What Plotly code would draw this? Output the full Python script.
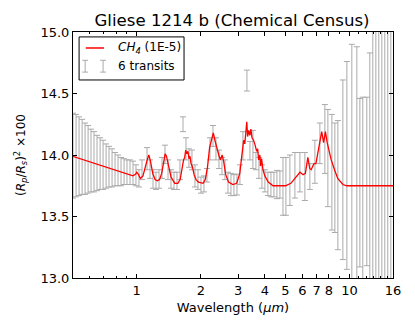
import plotly.graph_objects as go

# ---- observed transit depths (6 transits) ----
wavelength = [0.502, 0.519, 0.536, 0.554, 0.572, 0.591, 0.610, 0.630, 0.651, 0.673,
              0.695, 0.718, 0.741, 0.766, 0.791, 0.817, 0.844, 0.872, 0.900, 0.930,
              0.961, 0.992, 1.025, 1.059, 1.118, 1.155, 1.193, 1.232, 1.273, 1.315,
              1.358, 1.403, 1.449, 1.497, 1.546, 1.597, 1.650, 1.704, 1.760, 1.818,
              1.878, 1.940, 2.004, 2.070, 2.138, 2.209, 2.282, 2.357, 2.435, 2.515,
              2.598, 2.684, 2.772, 2.863, 2.958, 3.055, 3.156, 3.295, 3.404, 3.516,
              3.632, 3.752, 3.876, 4.003, 4.135, 4.272, 4.413, 4.558, 4.708, 4.866,
              5.023, 5.245, 5.537, 5.844, 6.168, 6.511, 6.873, 7.255, 7.656, 7.910,
              8.260, 8.531, 8.812, 9.301, 9.712, 10.25, 10.82, 11.18, 11.54, 12.05,
              12.45, 12.86, 13.29, 13.72, 14.18, 14.64, 15.12, 15.63]
depth = [13.995, 13.995, 13.99, 13.985, 13.97, 13.965, 13.955, 13.945, 13.935, 13.93,
         13.92, 13.91, 13.905, 13.895, 13.885, 13.875, 13.865, 13.865, 13.86, 13.86,
         13.855, 13.835, 13.81, 13.88, 13.97, 13.885, 13.805, 13.79, 13.805, 13.895,
         14.005, 13.88, 13.805, 13.79, 13.79, 13.88, 14.25, 14.05, 13.975, 13.96,
         13.83, 13.80, 13.755, 13.765, 13.835, 14.05, 14.155, 14.05, 13.965, 13.91,
         13.88, 13.775, 13.76, 13.755, 13.76, 13.84, 14.075, 14.605, 14.035, 14.045,
         13.95, 13.895, 13.825, 13.79, 13.765, 13.76, 13.76, 13.76, 13.76, 13.745,
         13.745, 13.795, 13.835, 13.86, 13.825, 13.825, 13.945, 14.095, 14.13, 13.975,
         13.86, 13.815, 13.755, 13.88, 13.915, 13.93, 13.91, 13.775, 13.705, 13.785,
         13.865, 13.95, 13.90, 14.0, 13.85, 13.95, 14.05, 13.90]
error = [0.345, 0.335, 0.32, 0.305, 0.29, 0.275, 0.255, 0.245, 0.225, 0.21,
         0.20, 0.18, 0.165, 0.155, 0.135, 0.125, 0.115, 0.105, 0.10, 0.10,
         0.095, 0.085, 0.07, 0.08, 0.09, 0.075, 0.075, 0.07, 0.075, 0.085,
         0.075, 0.08, 0.075, 0.07, 0.07, 0.08, 0.06, 0.09, 0.075, 0.08,
         0.09, 0.08, 0.065, 0.065, 0.055, 0.09, 0.085, 0.09, 0.075, 0.07,
         0.08, 0.085, 0.09, 0.085, 0.085, 0.08, 0.115, 0.085, 0.075, 0.155,
         0.07, 0.085, 0.095, 0.09, 0.095, 0.10, 0.10, 0.115, 0.11, 0.235,
         0.235, 0.205, 0.185, 0.16, 0.195, 0.105, 0.175, 0.165, 0.28, 0.395,
         0.47, 0.445, 0.525, 0.73, 0.845, 0.97, 0.97, 0.685, 0.765, 0.685,
         0.965, 1.2, 1.25, 1.3, 1.25, 1.35, 1.3, 1.3]

# ---- CH4 (1E-5) model spectrum ----
model_wl = [0.5, 0.96, 0.99, 1.0, 1.02, 1.04, 1.07, 1.10, 1.12, 1.14, 1.16, 1.19, 1.22,
            1.25, 1.28, 1.31, 1.34, 1.36, 1.38, 1.41, 1.45, 1.51, 1.56, 1.60, 1.63,
            1.66, 1.68, 1.70, 1.72, 1.74, 1.76, 1.78, 1.80, 1.83, 1.86, 1.90, 1.95,
            2.05, 2.10, 2.15, 2.20, 2.25, 2.29, 2.33, 2.38, 2.43, 2.47, 2.52, 2.56,
            2.62, 2.70, 2.83, 2.95, 3.05, 3.12, 3.18, 3.22, 3.26, 3.29, 3.32, 3.36,
            3.40, 3.44, 3.48, 3.54, 3.60, 3.66, 3.70, 3.74, 3.79, 3.82, 3.86, 3.92,
            4.0, 4.15, 4.37, 5.0, 5.3, 5.6, 5.85, 6.05, 6.2, 6.37, 6.5, 6.6, 6.8,
            6.95, 7.15, 7.4, 7.55, 7.7, 7.85, 8.2, 8.5, 8.8, 9.3, 9.7, 16.0]
model_depth = [13.99, 13.83, 13.845, 13.86, 13.84, 13.81, 13.83, 13.92, 13.96, 14.0,
               13.95, 13.85, 13.80, 13.79, 13.80, 13.85, 13.96, 14.01, 13.99, 13.92,
               13.82, 13.77, 13.77, 13.80, 13.90, 13.96, 13.98, 14.04, 14.01, 14.03,
               13.97, 13.99, 13.93, 13.90, 13.84, 13.80, 13.78, 13.77, 13.80, 13.90,
               14.06, 14.13, 14.18, 14.12, 14.05, 14.0, 13.96, 14.0, 13.95, 13.84,
               13.78, 13.76, 13.77, 13.85, 14.0, 14.12, 14.09, 14.18, 14.27, 14.15,
               14.2, 14.16, 14.21, 14.14, 14.12, 14.08, 14.03, 14.05, 13.96, 14.0,
               13.91, 13.97, 13.88, 13.83, 13.78, 13.75, 13.75, 13.77, 13.82, 13.86,
               13.84, 13.85, 13.98, 13.89, 13.88, 13.93, 13.93, 14.06, 14.19, 14.1,
               14.19, 14.1, 13.96, 13.88, 13.81, 13.76, 13.75, 13.75]

x_tickvals = [1, 2, 3, 4, 5, 6, 7, 8, 10, 16]
x_ticktext = ["1", "2", "3", "4", "5", "6", "7", "8", "10", "16"]
x_minor_vals = [0.6, 0.7, 0.8, 0.9, 9, 11, 12, 13, 14, 15]
y_tickvals = [13.0, 13.5, 14.0, 14.5, 15.0]
y_ticktext = ["13.0", "13.5", "14.0", "14.5", "15.0"]

FONT = "DejaVu Sans"
GREY = "#aaaaaa"

fig = go.Figure()
fig.add_trace(go.Scatter(
    x=wavelength, y=depth, mode="markers",
    marker=dict(size=1, color="rgba(0,0,0,0)"),
    error_y=dict(type="data", array=error, visible=True, color=GREY,
                 thickness=1, width=3),
    showlegend=False, hoverinfo="skip"))
fig.add_trace(go.Scatter(
    x=model_wl, y=model_depth, mode="lines",
    line=dict(color="#ff0000", width=1.3),
    showlegend=False))

axis_common = dict(showline=True, linecolor="black", linewidth=1, mirror="ticks",
                   ticks="inside", ticklen=4, tickcolor="black", showgrid=False,
                   zeroline=False, automargin=False,
                   tickfont=dict(family=FONT, size=13, color="black"))

fig.update_xaxes(type="log", range=[-0.2993, 1.2041],
                 tickmode="array", tickvals=x_tickvals, ticktext=x_ticktext,
                 minor=dict(tickmode="array", tickvals=x_minor_vals, ticks="inside",
                            ticklen=2, tickcolor="black", showgrid=False),
                 title=dict(text="Wavelength (<i>μm</i>)",
                            font=dict(family=FONT, size=13, color="black"),
                            standoff=6),
                 **axis_common)
fig.update_yaxes(range=[13.0, 15.0], tickmode="array", tickvals=y_tickvals,
                 ticktext=y_ticktext,
                 title=dict(text="(<i>R<sub>p</sub></i>/<i>R<sub>s</sub></i>)<sup>2</sup> ×100",
                            font=dict(family=FONT, size=12, color="black"),
                            standoff=12),
                 **axis_common)

# legend box drawn in paper space
shapes = [
    dict(type="rect", xref="paper", yref="paper", x0=0.019, x1=0.347, y0=0.805, y1=0.98,
         line=dict(color="black", width=1), fillcolor="white", layer="above"),
    dict(type="line", xref="paper", yref="paper", x0=0.04, x1=0.097, y0=0.935, y1=0.935,
         line=dict(color="#ff0000", width=1.5), layer="above"),
]
for xc in (0.038, 0.094):
    shapes.append(dict(type="line", xref="paper", yref="paper", x0=xc, x1=xc,
                       y0=0.837, y1=0.885, line=dict(color=GREY, width=1), layer="above"))
    for yc in (0.837, 0.885):
        shapes.append(dict(type="line", xref="paper", yref="paper", x0=xc - 0.009,
                           x1=xc + 0.009, y0=yc, y1=yc,
                           line=dict(color=GREY, width=1), layer="above"))

annotations = [
    dict(text="<i>CH<sub>4</sub></i> (1E-5)", xref="paper", yref="paper", x=0.133,
         y=0.935, xanchor="left", yanchor="middle", showarrow=False,
         font=dict(family=FONT, size=12, color="black")),
    dict(text="6 transits", xref="paper", yref="paper", x=0.133, y=0.862,
         xanchor="left", yanchor="middle", showarrow=False,
         font=dict(family=FONT, size=12, color="black")),
]

# the page body adds an 8px offset; figure size/margins compensate for it
fig.update_layout(
    width=407, height=324,
    margin=dict(l=65, r=22, t=24, b=54, autoexpand=False),
    paper_bgcolor="white", plot_bgcolor="white",
    title=dict(text="Gliese 1214 b (Chemical Census)", x=0.5504, xanchor="center",
               y=0.963, yanchor="middle",
               font=dict(family=FONT, size=16.6, color="black")),
    shapes=shapes, annotations=annotations,
)

fig.write_html("out.html")
